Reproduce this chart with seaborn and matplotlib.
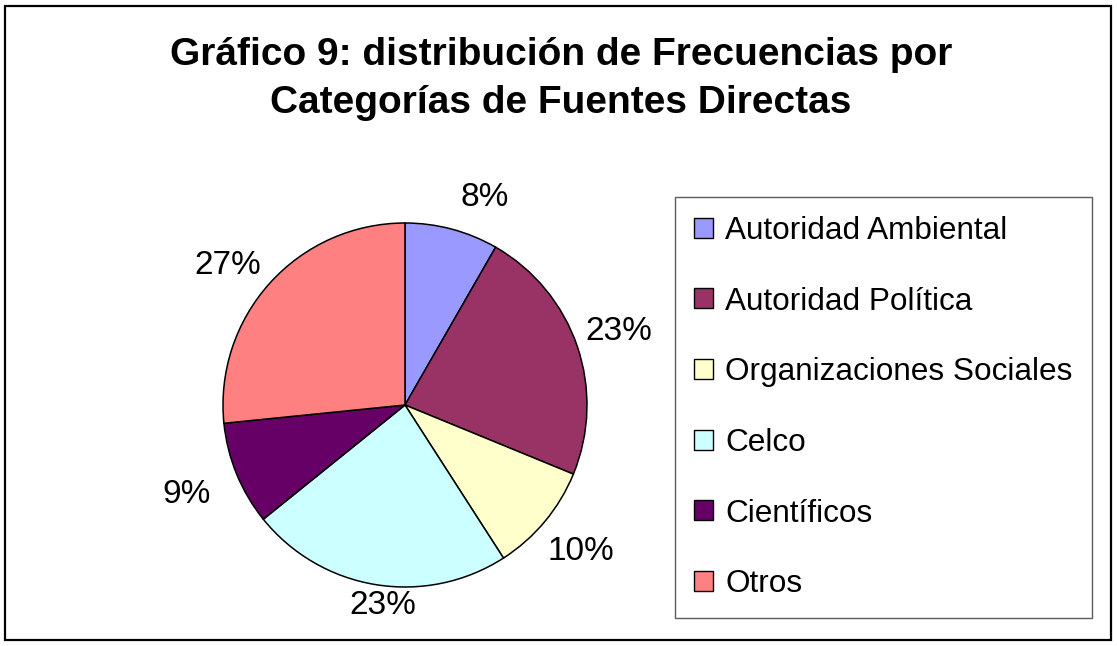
import numpy as np
import seaborn as sns
import matplotlib.pyplot as plt
from matplotlib.patches import Rectangle

# data (percent of direct sources per category)
categorias = ["Autoridad Ambiental", "Autoridad Política", "Organizaciones Sociales",
              "Celco", "Científicos", "Otros"]
porcentajes = [8.3, 22.9, 9.7, 23.3, 9.2, 26.6]
colores = ["#9999FF", "#993366", "#FFFFCC", "#CCFFFF", "#660066", "#FF8080"]
titulo = "Gráfico 9: distribución de Frecuencias por\nCategorías de Fuentes Directas"

sns.set_theme(style="white")
plt.rcParams['font.family'] = ['Liberation Sans', 'DejaVu Sans']
plt.rcParams['text.color'] = 'black'

W, H = 1117, 646
fig = plt.figure(figsize=(W / 100, H / 100), dpi=100)
fig.patch.set_facecolor("white")

# outer chart border
fig.add_artist(Rectangle((5 / W, 6 / H), 1106 / W, 634 / H, transform=fig.transFigure,
                         fill=False, edgecolor="black", linewidth=1.6))

fig.text(0.502, 1 - 79 / H, titulo, ha="center", va="center", fontsize=28,
         fontweight="bold", linespacing=1.42, color="black")

# pie axes: centre (405, 405) px, radius 182 px
cx, cy, r = 405, 405, 182
ax = fig.add_axes([(cx - r) / W, (H - cy - r) / H, 2 * r / W, 2 * r / H])
wedges, texts, autotexts = ax.pie(
    porcentajes, colors=colores, startangle=90, counterclock=False,
    autopct="%1.0f%%", pctdistance=1.24,
    wedgeprops=dict(edgecolor="black", linewidth=1.1),
    textprops=dict(fontsize=24, color="black"))

# push each label out like Excel's outside-end placement
dist = [1.22, 1.24, 1.26, 1.11, 1.30, 1.24]
shift = [-6, 0, 0, 3, 0, 4]  # small angle tweaks, degrees
for w, t, d, s in zip(wedges, autotexts, dist, shift):
    ang = np.deg2rad((w.theta1 + w.theta2) / 2 + s)
    t.set_position((d * np.cos(ang), d * np.sin(ang)))

ax.set_xlim(-1, 1)
ax.set_ylim(-1, 1)
ax.set_aspect("equal")
ax.axis("off")

leg = fig.legend(wedges, categorias, loc="upper left",
                 bbox_to_anchor=(675 / W, 1 - 197 / H), fontsize=22.7,
                 frameon=True, fancybox=False, edgecolor="#333333",
                 handlelength=0.6, handleheight=0.6, handletextpad=0.4,
                 labelspacing=1.29, borderpad=0.6, borderaxespad=0)
leg.get_frame().set_linewidth(1.0)
for h in leg.legend_handles:
    h.set_linewidth(1.0)
for t in leg.get_texts():
    t.set_color("black")

fig.savefig("out.png", dpi=100, facecolor="white")
